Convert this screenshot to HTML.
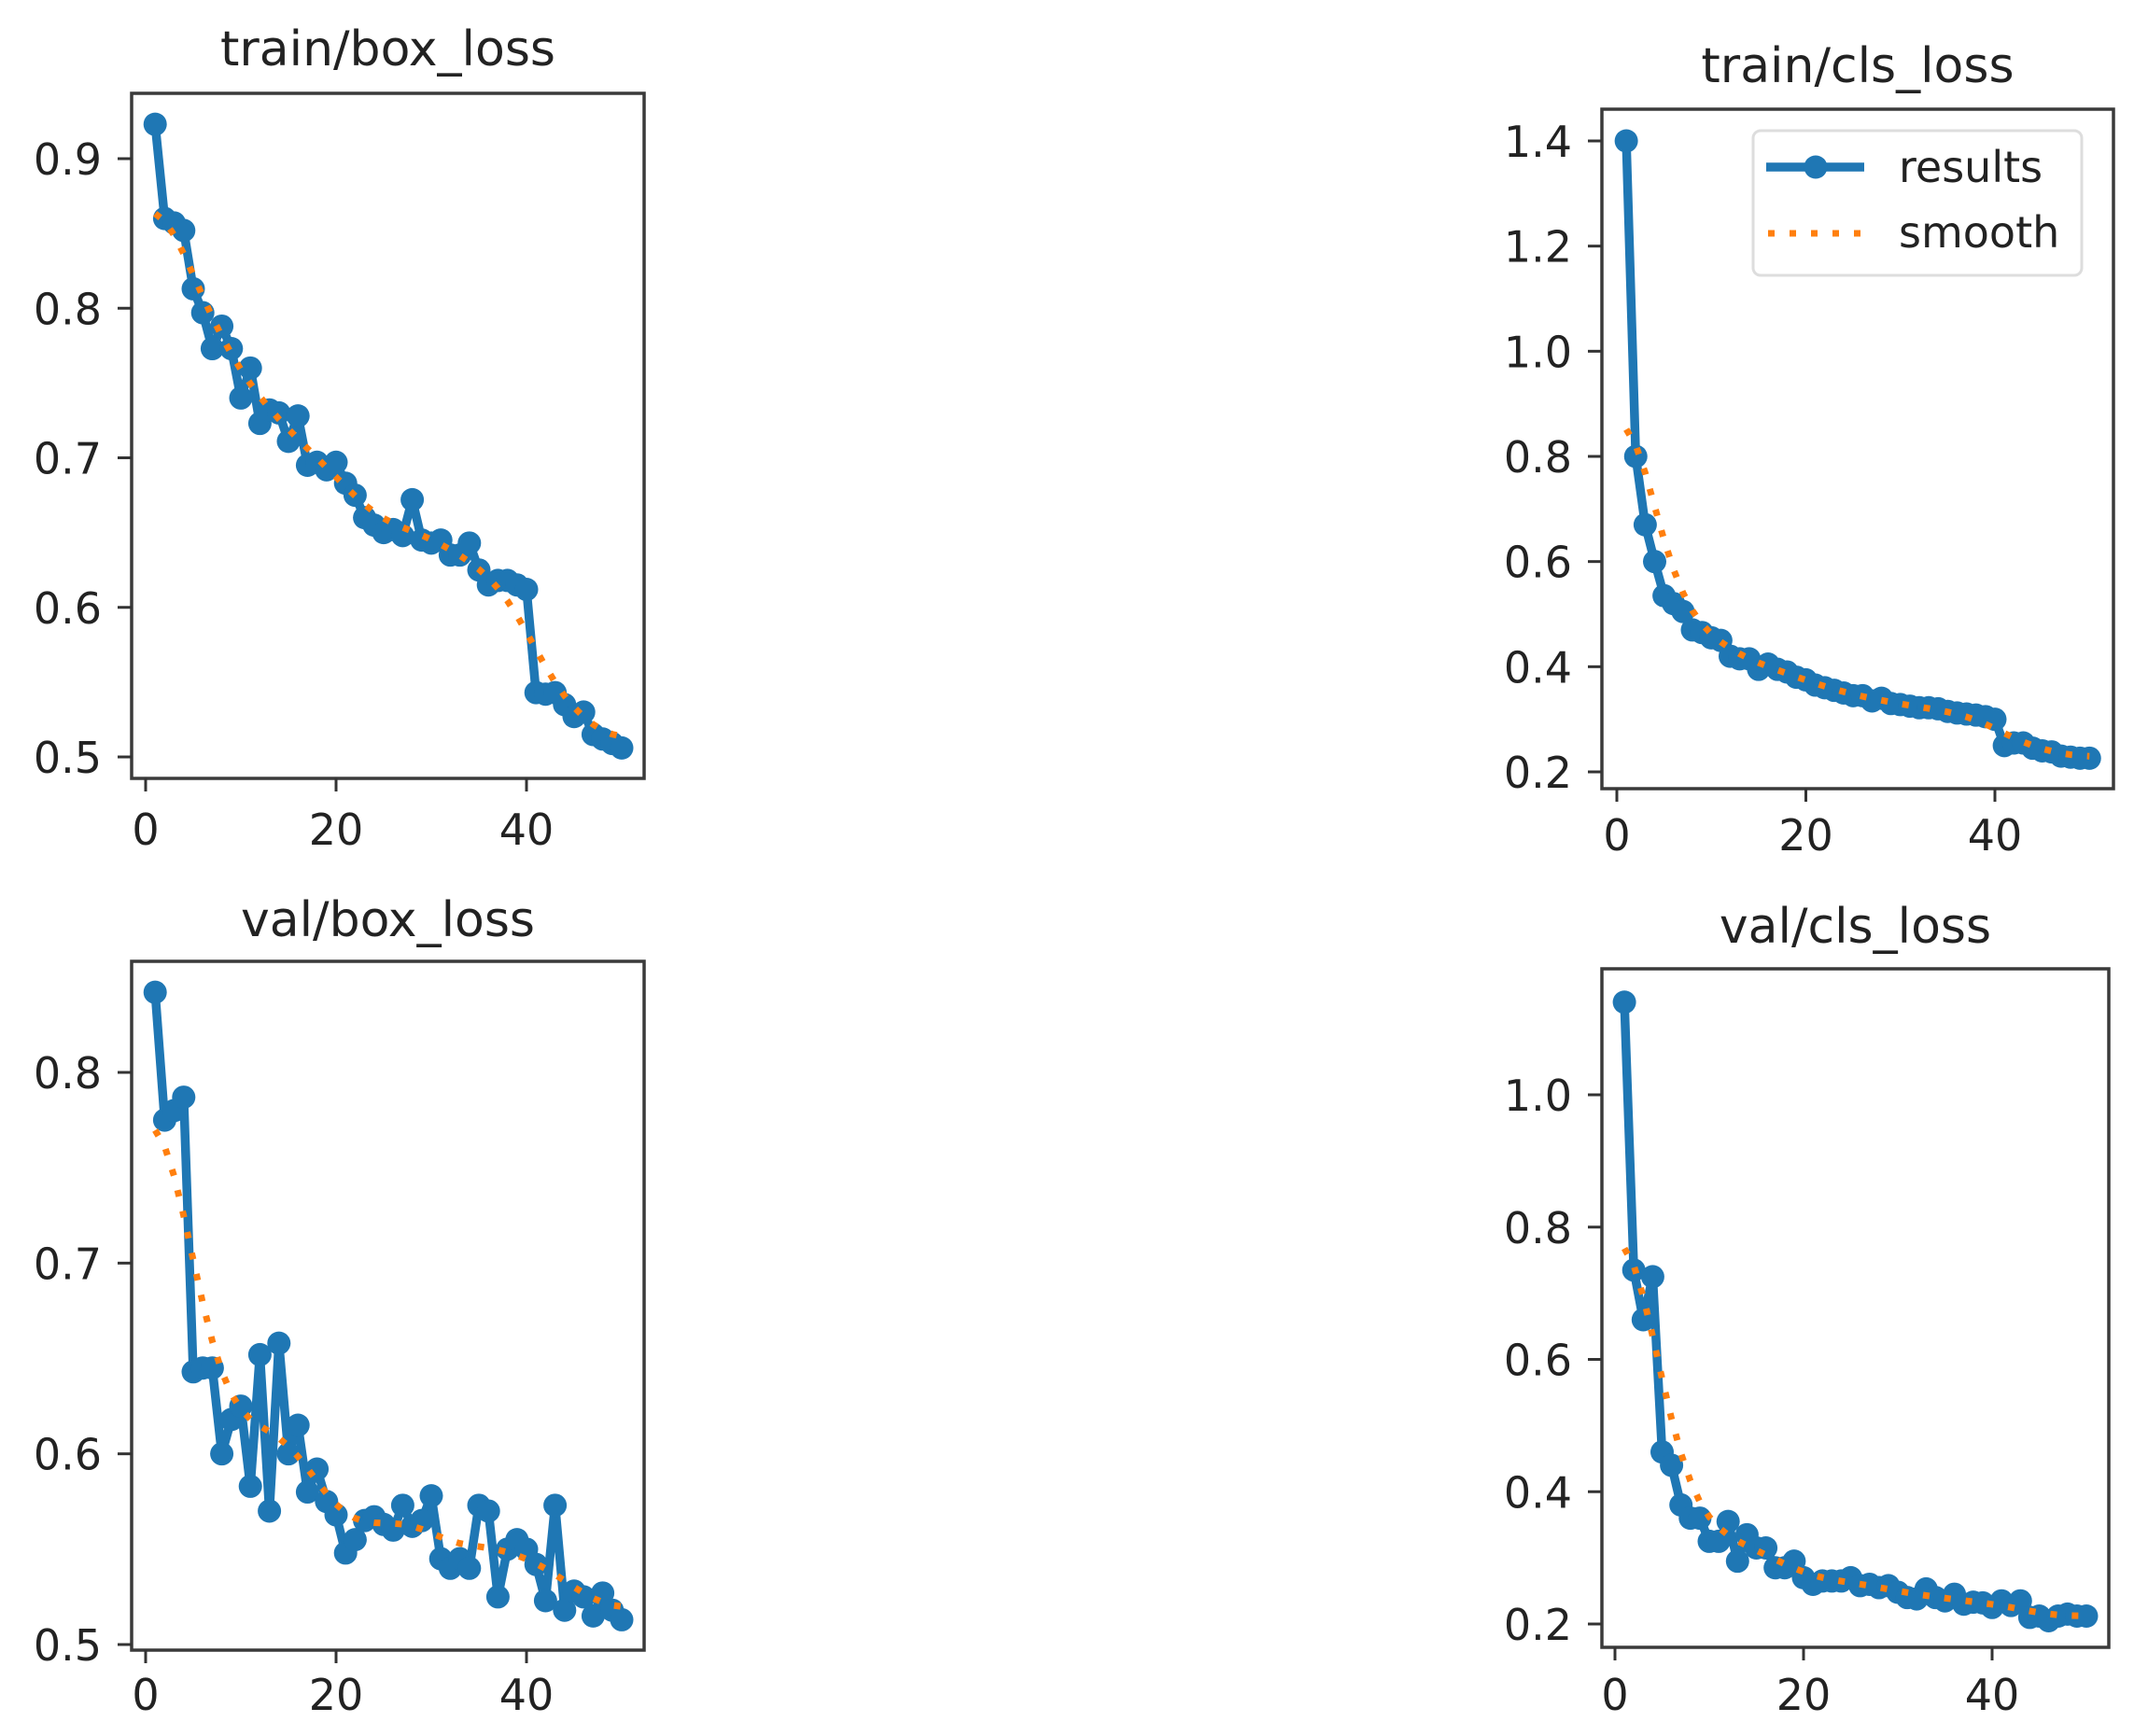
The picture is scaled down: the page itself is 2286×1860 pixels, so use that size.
<!DOCTYPE html>
<html><head><meta charset="utf-8"><style>
html,body{margin:0;padding:0;background:#fff;}
svg{display:block;font-family:"DejaVu Sans","Liberation Sans",sans-serif;}
</style></head><body>
<svg id="chart" width="2286" height="1860" viewBox="0 0 2286 1860" xmlns="http://www.w3.org/2000/svg">
<rect width="2286" height="1860" fill="#fff"/>
</svg>
<script>
const epochs = Array.from({length:50},(_,i)=>i+1);
const trainBox = [0.923,0.860,0.857,0.852,0.813,0.797,0.773,0.788,0.773,0.740,0.760,0.723,0.732,0.730,0.711,0.728,0.695,0.697,0.692,0.697,0.683,0.675,0.660,0.655,0.650,0.652,0.648,0.672,0.645,0.643,0.645,0.635,0.635,0.643,0.625,0.615,0.618,0.618,0.615,0.612,0.543,0.542,0.543,0.535,0.527,0.530,0.515,0.512,0.509,0.506];
const trainCls = [1.40,0.80,0.67,0.60,0.535,0.520,0.505,0.470,0.465,0.455,0.450,0.420,0.415,0.415,0.395,0.405,0.395,0.390,0.380,0.375,0.365,0.360,0.355,0.350,0.345,0.345,0.335,0.340,0.330,0.328,0.325,0.322,0.322,0.320,0.315,0.312,0.310,0.308,0.305,0.300,0.250,0.255,0.255,0.245,0.240,0.238,0.230,0.228,0.226,0.226];
const valBox = [0.842,0.775,0.780,0.787,0.643,0.645,0.645,0.600,0.618,0.625,0.583,0.652,0.570,0.658,0.600,0.615,0.580,0.592,0.575,0.568,0.548,0.555,0.565,0.567,0.563,0.560,0.573,0.562,0.565,0.578,0.545,0.540,0.545,0.540,0.573,0.570,0.525,0.550,0.555,0.550,0.542,0.523,0.573,0.518,0.528,0.525,0.515,0.527,0.518,0.513];
const valCls = [1.14,0.735,0.660,0.725,0.460,0.440,0.380,0.360,0.360,0.325,0.325,0.355,0.295,0.335,0.315,0.315,0.285,0.285,0.295,0.270,0.260,0.265,0.265,0.265,0.270,0.258,0.260,0.255,0.258,0.248,0.240,0.238,0.253,0.240,0.235,0.245,0.230,0.233,0.232,0.225,0.235,0.228,0.235,0.210,0.212,0.205,0.212,0.215,0.212,0.212];
const xTicks = [0,20,40];
const yTicksTrainBox = [0.5,0.6,0.7,0.8,0.9];
const yTicksTrainCls = [0.2,0.4,0.6,0.8,1.0,1.2,1.4];
const yTicksValBox = [0.5,0.6,0.7,0.8];
const yTicksValCls = [0.2,0.4,0.6,0.8,1.0];
const titles = ["train/box_loss","train/cls_loss","val/box_loss","val/cls_loss"];

const NS="http://www.w3.org/2000/svg";
const svg=document.getElementById('chart');
function mk(tag,attrs,parent){const e=document.createElementNS(NS,tag);for(const k in attrs)e.setAttribute(k,attrs[k]);(parent||svg).appendChild(e);return e;}

function gauss(y,sigma){
  const r=Math.round(4*sigma),w=[];let s=0;
  for(let i=-r;i<=r;i++){const v=Math.exp(-0.5*i*i/(sigma*sigma));w.push(v);s+=v;}
  const n=y.length,out=[];
  const at=i=>{while(i<0||i>=n){if(i<0)i=-i-1;if(i>=n)i=2*n-i-1;}return y[i];};
  for(let i=0;i<n;i++){let a=0;for(let k=-r;k<=r;k++)a+=w[k+r]*at(i+k);out.push(a/s);}
  return out;
}

const layouts=[
  [141,690,100,834, 156,564, 0.9,170,0.5,811, 70,905],
  [1716,2264,117,845, 1732,2137, 1.4,151,0.2,827, 88,911],
  [141,690,1030,1768, 156,564, 0.8,1149,0.5,1762, 1003,1832],
  [1716,2259,1038,1765, 1730,2134, 1.0,1173,0.2,1740, 1010,1832]
];
const series=[trainBox,trainCls,valBox,valCls];
const yTicksAll=[yTicksTrainBox,yTicksTrainCls,yTicksValBox,yTicksValCls];
const names=["train-box-loss","train-cls-loss","val-box-loss","val-cls-loss"];

layouts.forEach((L,pi)=>{
  const [l,r,t,b,x0,x40,va,pa,vb,pb,tb,xb]=L;
  const xs=v=>x0+(v-0)*(x40-x0)/40;
  const ys=v=>pa+(v-va)*(pb-pa)/(vb-va);
  const g=mk('g',{});
  
  
  const clipId='clip'+pi;
  const cp=mk('clipPath',{id:clipId},g);mk('rect',{x:l,y:t,width:r-l,height:b-t},cp);
  const title=mk('text',{x:(l+r)/2,y:tb,'text-anchor':'middle','font-size':52,fill:'#222'},g);
  title.textContent=titles[pi];
  
  
  const data=series[pi];
  const sm=gauss(data,3);
  const plot=mk('g',{'clip-path':'url(#'+clipId+')'},g);
  const line=mk('polyline',{points:data.map((v,i)=>xs(epochs[i])+','+ys(v)).join(' '),fill:'none',stroke:'#1f77b4','stroke-width':9.5,'stroke-linejoin':'round'},plot);
  
  
  data.forEach((v,i)=>{
    const c=mk('circle',{cx:xs(epochs[i]),cy:ys(v),r:12.5,fill:'#1f77b4'},plot);
    
    
  });
  const sl=mk('polyline',{points:sm.map((v,i)=>xs(epochs[i])+','+ys(v)).join(' '),fill:'none',stroke:'#ff7f0e','stroke-width':7,'stroke-dasharray':'7 16'},plot);
  
  
  const frame=mk('rect',{x:l,y:t,width:r-l,height:b-t,fill:'none',stroke:'#3a3a3a','stroke-width':3.5},g);
  
  
  xTicks.forEach(v=>{
    const x=xs(v);
    mk('line',{x1:x,y1:b,x2:x,y2:b+14,stroke:'#333','stroke-width':3},g);
    const tx=mk('text',{x:x,y:xb,'text-anchor':'middle','font-size':46,fill:'#222'},g);
    tx.textContent=String(v);
    
    
  });
  yTicksAll[pi].forEach(v=>{
    const y=ys(v);
    mk('line',{x1:l-15,y1:y,x2:l,y2:y,stroke:'#333','stroke-width':3},g);
    const ty=mk('text',{x:l-32,y:y+17,'text-anchor':'end','font-size':46,fill:'#222'},g);
    ty.textContent=v.toFixed(1);
    
    
  });
});

const lg=mk('g',{});


mk('rect',{x:1878,y:140,width:352,height:155,rx:8,fill:'#fff','fill-opacity':0.85,stroke:'#ddd','stroke-width':3},lg);
mk('line',{x1:1892,y1:179,x2:1997,y2:179,stroke:'#1f77b4','stroke-width':9.5},lg);
mk('circle',{cx:1945,cy:179,r:12.5,fill:'#1f77b4'},lg);
mk('line',{x1:1894,y1:250,x2:1997,y2:250,stroke:'#ff7f0e','stroke-width':7,'stroke-dasharray':'7 16'},lg);
const l1=mk('text',{x:2034,y:195,'font-size':46,fill:'#222'},lg);l1.textContent='results';


const l2=mk('text',{x:2034,y:265,'font-size':46,fill:'#222'},lg);l2.textContent='smooth';


</script>
</body></html>
